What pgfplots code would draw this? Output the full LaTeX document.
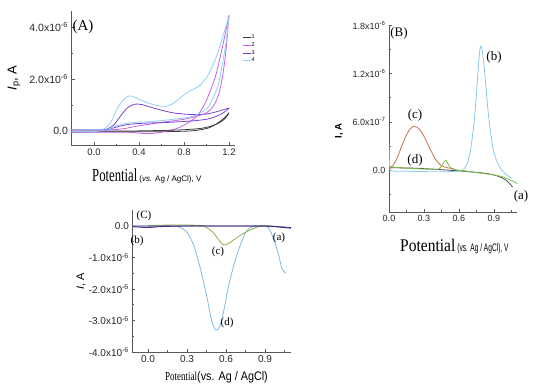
\documentclass[border=0pt]{standalone}
\usepackage{fontspec}
\setmainfont{Liberation Serif}
\setsansfont{Liberation Sans}
\usepackage{pgfplots}
\pgfplotsset{compat=1.18}
\usepackage{graphicx}
\definecolor{cA1}{HTML}{3A3A3A}
\definecolor{cA2}{HTML}{C462EA}
\definecolor{cA3}{HTML}{7A40D8}
\definecolor{cA4}{HTML}{8FD0F0}
\definecolor{cBa}{HTML}{4A4A58}
\definecolor{cBb}{HTML}{88C8F0}
\definecolor{cBc}{HTML}{C8704C}
\definecolor{cBd}{HTML}{78C040}
\definecolor{cCa}{HTML}{202070}
\definecolor{cCb}{HTML}{602888}
\definecolor{cCc}{HTML}{90B040}
\definecolor{cCd}{HTML}{80B8E8}
\pgfplotsset{panel/.style={scale only axis,
  axis x line*=bottom, axis y line*=left,
  tick align=inside, major tick length=3pt, minor tick length=1.6pt,
  axis line style={line width=0.7pt, color=black!65},
  every tick/.style={black!65, line width=0.6pt},
  tick label style={font=\sffamily\fontsize{9.5}{10}\selectfont, color=black!85},
  every axis plot/.append style={line width=0.8pt, smooth, no markers}}}
\newcommand{\sx}[1]{x10\textsuperscript{#1}}
\begin{document}
\begin{tikzpicture}[x=1pt,y=1pt]
\useasboundingbox (0,0) rectangle (550,391);
% ---------------- Panel A
\begin{axis}[panel, at={(71.5pt,245.7pt)}, anchor=south west,
  width=163.1pt, height=133.9pt,
  xmin=-0.2, xmax=1.25, ymin=-0.55, ymax=4.6,
  xtick={0,0.4,0.8,1.2}, xticklabels={0.0,0.4,0.8,1.2},
  minor xtick={-0.2,0.2,0.6,1.0},
  ytick={0,2,4}, yticklabels={0.0,2.0\sx{-6},4.0\sx{-6}},
  minor ytick={1,3},
  yticklabel style={font=\sffamily\fontsize{10.5}{11}\selectfont},
  legend style={at={(1.027,0.845)}, anchor=north west, draw=none, fill=none,
    font=\sffamily\fontsize{5.5}{5.5}\selectfont, row sep=1.2pt,
    nodes={inner sep=0.6pt}},
  legend cell align=left,
  legend image code/.code={\draw[#1, line width=0.9pt] (0pt,0pt) -- (8pt,0pt);}]
\addplot[cA1] coordinates {(-0.2,-0.03)(0.2,-0.03)(0.5,-0.03)(0.7,-0.02)(0.85,0.0)(0.95,0.05)(1.02,0.12)(1.08,0.25)(1.13,0.4)(1.17,0.55)(1.2,0.7)};
\addplot[cA2] coordinates {(-0.2,-0.05)(0.3,-0.05)(0.45,-0.1)(0.55,-0.08)(0.65,0.0)(0.75,0.12)(0.85,0.35)(0.92,0.6)(0.98,1.0)(1.03,1.5)(1.08,2.1)(1.12,2.8)(1.16,3.6)(1.2,4.45)};
\addplot[cA3] coordinates {(-0.2,0.05)(0.05,0.05)(0.12,0.08)(0.18,0.25)(0.24,0.6)(0.3,0.9)(0.36,1.03)(0.42,1.02)(0.5,0.92)(0.6,0.8)(0.7,0.7)(0.8,0.65)(0.9,0.63)(1.0,0.65)(1.08,0.73)(1.15,0.82)(1.2,0.88)};
\addplot[cA4] coordinates {(-0.2,0.06)(0.05,0.06)(0.1,0.1)(0.15,0.35)(0.2,0.8)(0.25,1.15)(0.3,1.33)(0.34,1.34)(0.4,1.22)(0.48,1.08)(0.56,0.98)(0.64,0.95)(0.7,1.05)(0.76,1.25)(0.82,1.45)(0.88,1.6)(0.94,1.75)(1.0,2.05)(1.05,2.45)(1.1,3.0)(1.15,3.7)(1.2,4.4)};
\legend{1,2,3,4}
\addplot[cA1, forget plot] coordinates {(1.2,0.7)(1.17,0.5)(1.12,0.33)(1.05,0.2)(0.95,0.1)(0.8,0.05)(0.6,0.02)(0.3,0.0)(-0.2,0.0)};
\addplot[cA2, forget plot] coordinates {(1.2,4.45)(1.18,3.4)(1.16,2.6)(1.13,1.8)(1.1,1.3)(1.06,0.95)(1.0,0.7)(0.9,0.55)(0.8,0.45)(0.6,0.33)(0.4,0.2)(0.25,0.08)(0.1,0.04)(-0.2,0.04)};
\addplot[cA3, forget plot] coordinates {(1.2,0.88)(1.15,0.7)(1.08,0.55)(1.0,0.45)(0.85,0.38)(0.65,0.33)(0.45,0.3)(0.3,0.25)(0.2,0.15)(0.1,0.03)(0.0,-0.03)(-0.2,-0.04)};
\addplot[cA4, forget plot] coordinates {(1.2,4.4)(1.17,3.3)(1.13,2.3)(1.1,1.7)(1.05,1.2)(1.0,0.85)(0.9,0.6)(0.8,0.5)(0.6,0.4)(0.45,0.35)(0.3,0.3)(0.2,0.2)(0.12,0.05)(0.0,-0.02)(-0.2,-0.02)};
\end{axis}
% ---------------- Panel B
\begin{axis}[panel, at={(389pt,179pt)}, anchor=south west,
  width=128.3pt, height=186.8pt,
  xmin=0, xmax=1.1, ymin=-5.2, ymax=18,
  xtick={0,0.3,0.6,0.9}, xticklabels={0.0,0.3,0.6,0.9},
  minor xtick={0.15,0.45,0.75,1.05},
  ytick={0,6,12,18}, yticklabels={0.0,6.0\sx{-7},1.2\sx{-6},1.8\sx{-6}},
  minor ytick={-3,3,9,15},
  tick label style={font=\sffamily\fontsize{9}{9}\selectfont}]
\addplot[cBa] coordinates {(0,0.3)(0.2,0.25)(0.4,0.1)(0.6,-0.1)(0.8,-0.35)(0.9,-0.6)(0.95,-0.85)(1.0,-1.2)(1.03,-1.6)(1.06,-2.1)};
\addplot[cBb] coordinates {(0,3.3)(0.006,0.4)(0.03,-0.1)(0.2,-0.15)(0.4,-0.2)(0.6,-0.15)(0.64,0.1)(0.67,0.8)(0.70,2.6)(0.73,6.0)(0.755,10.5)(0.77,13.6)(0.785,15.4)(0.80,14.8)(0.82,12.2)(0.845,8.0)(0.87,4.8)(0.9,2.2)(0.94,0.6)(0.98,-0.2)(1.02,-0.7)(1.05,-1.0)};
\addplot[cBc] coordinates {(0,0.1)(0.03,0.5)(0.07,1.5)(0.12,3.4)(0.17,4.9)(0.215,5.45)(0.26,5.1)(0.30,4.2)(0.35,2.7)(0.40,1.3)(0.45,0.55)(0.5,0.3)(0.56,0.15)};
\addplot[cBd] coordinates {(0,0.5)(0.05,0.35)(0.2,0.2)(0.4,0.1)(0.44,0.3)(0.47,1.0)(0.49,1.2)(0.51,0.7)(0.54,0.15)(0.6,0.0)(0.7,-0.2)(0.8,-0.4)(0.9,-0.6)(0.97,-0.8)(1.02,-1.1)(1.07,-1.4)(1.1,-1.7)};
\end{axis}
% ---------------- Panel C
\begin{axis}[panel, at={(132.4pt,39pt)}, anchor=south west,
  width=158.6pt, height=141.75pt,
  xmin=-0.12, xmax=1.1, ymin=-4, ymax=0.5,
  xtick={0,0.3,0.6,0.9}, xticklabels={0.0,0.3,0.6,0.9},
  minor xtick={0.15,0.45,0.75,1.05},
  ytick={0,-1,-2,-3,-4},
  yticklabels={0.0,-1.0\sx{-6},-2.0\sx{-6},-3.0\sx{-6},-4.0\sx{-6}},
  minor ytick={-0.5,-1.5,-2.5,-3.5},
  tick label style={font=\sffamily\fontsize{10}{10}\selectfont}]
\addplot[cCd] coordinates {(-0.12,-0.02)(0.0,-0.03)(0.1,0.0)(0.2,0.0)(0.25,-0.05)(0.3,-0.2)(0.35,-0.6)(0.4,-1.3)(0.45,-2.2)(0.49,-3.0)(0.52,-3.3)(0.55,-3.2)(0.58,-2.75)(0.62,-1.9)(0.67,-1.1)(0.72,-0.5)(0.76,-0.15)(0.8,-0.03)(0.85,0.0)(0.9,0.0)(0.93,-0.08)(0.96,-0.35)(0.99,-0.7)(1.01,-1.0)(1.03,-1.35)(1.06,-1.5)};
\addplot[cCc] coordinates {(0.0,0.02)(0.2,0.03)(0.4,0.02)(0.45,-0.05)(0.5,-0.2)(0.54,-0.42)(0.58,-0.6)(0.62,-0.55)(0.68,-0.38)(0.74,-0.22)(0.8,-0.1)(0.85,-0.02)(0.9,0.0)(0.95,0.0)};
\addplot[cCb] coordinates {(-0.12,-0.02)(0.0,-0.05)(0.1,-0.02)(0.3,0.0)(0.6,0.0)(0.9,0.0)(1.1,-0.05)};
\addplot[cCa] coordinates {(-0.12,0.0)(0.3,0.0)(0.6,0.0)(0.9,0.0)(1.0,-0.03)(1.1,-0.07)};
\end{axis}
% ---------------- texts
\node[anchor=base west, inner sep=0] at (92,209.3) {\scalebox{1}[1.45]{\fontsize{12.7}{13}\selectfont Potential}\hspace{2pt}{\sffamily\fontsize{8}{9}\selectfont (\textit{vs.} Ag / AgCl), V}};
\node[anchor=base west, inner sep=0] at (400,139.3) {\scalebox{1}[1.15]{\fontsize{15.5}{16}\selectfont Potential}\hspace{2pt}\scalebox{0.6}[1]{\sffamily\fontsize{11}{11}\selectfont (vs. Ag / AgCl), V}};
\node[anchor=base west, inner sep=0] at (165,10.3) {\scalebox{1}[1.35]{\fontsize{9}{9}\selectfont Potential}\scalebox{1}[1.15]{\sffamily\fontsize{10.8}{11}\selectfont (vs. Ag / AgCl)}};
\node[rotate=90, inner sep=0] at (14,313) {\sffamily\fontsize{13}{13}\selectfont \textit{I}\textsubscript{p}, A};
\node[rotate=90, inner sep=0] at (339,260) {\sffamily\bfseries\fontsize{9.5}{10}\selectfont I, A};
\node[rotate=90, inner sep=0] at (81,110) {\sffamily\fontsize{11}{11}\selectfont \textit{I}, A};
\node[inner sep=0] at (83,364) {\fontsize{15}{15}\selectfont (A)};
\node[inner sep=0] at (399,358) {\fontsize{13}{13}\selectfont (B)};
\node[inner sep=0] at (494,334) {\fontsize{13}{13}\selectfont (b)};
\node[inner sep=0] at (415,276) {\fontsize{13}{13}\selectfont (c)};
\node[inner sep=0] at (415,231) {\fontsize{13}{13}\selectfont (d)};
\node[inner sep=0] at (521,195) {\fontsize{13}{13}\selectfont (a)};
\node[inner sep=0] at (144,175) {\fontsize{11}{11}\selectfont (C)};
\node[inner sep=0] at (137,150) {\fontsize{11}{11}\selectfont (b)};
\node[inner sep=0] at (279,153) {\fontsize{11}{11}\selectfont (a)};
\node[inner sep=0] at (218,139) {\fontsize{11}{11}\selectfont (c)};
\node[inner sep=0] at (227,68) {\fontsize{11}{11}\selectfont (d)};
\end{tikzpicture}
\end{document}
